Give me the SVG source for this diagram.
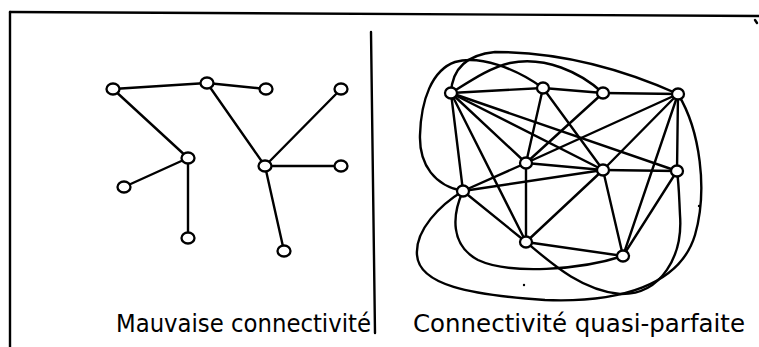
<svg xmlns="http://www.w3.org/2000/svg" width="759" height="347" viewBox="0 0 759 347">
<style>
.ln{stroke:#000;stroke-width:2.4;fill:none;stroke-linecap:round}
.cv{stroke:#000;stroke-width:2.4;fill:none}
.nd{stroke:#000;stroke-width:2.3;fill:#fff}
.lbl{font-family:"DejaVu Sans",sans-serif;font-size:25px;fill:#000}
</style>
<rect width="759" height="347" fill="#fff"/>
<g id="frame">
<line class="ln" x1="10" y1="12" x2="759" y2="16"/>
<line class="ln" x1="10" y1="12" x2="10" y2="347"/>
<line class="ln" x1="371" y1="32" x2="375" y2="333"/>
<line class="ln" x1="755" y1="20" x2="757" y2="23"/>
<circle cx="524" cy="285" r="1.2" fill="#000"/>
<circle cx="699" cy="206" r="1.2" fill="#000"/>
</g>
<g id="connectors">
<line class="ln" x1="113" y1="89" x2="207" y2="83"/>
<line class="ln" x1="207" y1="83" x2="266" y2="89"/>
<line class="ln" x1="113" y1="89" x2="188" y2="158"/>
<line class="ln" x1="188" y1="158" x2="124" y2="187"/>
<line class="ln" x1="188" y1="158" x2="188" y2="238"/>
<line class="ln" x1="207" y1="83" x2="265" y2="166"/>
<line class="ln" x1="265" y1="166" x2="341" y2="89"/>
<line class="ln" x1="265" y1="166" x2="341" y2="166"/>
<line class="ln" x1="265" y1="166" x2="284" y2="251"/>
<line class="ln" x1="451" y1="93" x2="543" y2="88"/>
<line class="ln" x1="543" y1="88" x2="603" y2="93"/>
<line class="ln" x1="603" y1="93" x2="678" y2="94"/>
<line class="ln" x1="451" y1="93" x2="526" y2="163"/>
<line class="ln" x1="451" y1="93" x2="603" y2="170"/>
<line class="ln" x1="451" y1="93" x2="677" y2="171"/>
<line class="ln" x1="451" y1="93" x2="463" y2="191"/>
<line class="ln" x1="451" y1="93" x2="526" y2="242"/>
<line class="ln" x1="543" y1="88" x2="526" y2="163"/>
<line class="ln" x1="543" y1="88" x2="603" y2="170"/>
<line class="ln" x1="603" y1="93" x2="526" y2="163"/>
<line class="ln" x1="678" y1="94" x2="526" y2="163"/>
<line class="ln" x1="678" y1="94" x2="603" y2="170"/>
<line class="ln" x1="678" y1="94" x2="677" y2="171"/>
<line class="ln" x1="678" y1="94" x2="623" y2="256"/>
<line class="ln" x1="526" y1="163" x2="603" y2="170"/>
<line class="ln" x1="526" y1="163" x2="463" y2="191"/>
<line class="ln" x1="526" y1="163" x2="526" y2="242"/>
<line class="ln" x1="603" y1="170" x2="677" y2="171"/>
<line class="ln" x1="603" y1="170" x2="463" y2="191"/>
<line class="ln" x1="603" y1="170" x2="526" y2="242"/>
<line class="ln" x1="603" y1="170" x2="623" y2="256"/>
<line class="ln" x1="677" y1="171" x2="623" y2="256"/>
<line class="ln" x1="463" y1="191" x2="526" y2="242"/>
<line class="ln" x1="526" y1="242" x2="623" y2="256"/>
<path class="cv" d="M463,191 C435,186 419,165 420,135 C421,100 432,70 455,62 C480,55 515,68 543,88"/>
<path class="cv" d="M451,93 C475,78 490,68 510,63 C545,56 580,72 603,93"/>
<path class="cv" d="M451,93 C452,70 465,55 495,52 C560,52 620,68 678,94"/>
<path class="cv" d="M463,191 C440,205 415,230 417,255 C419,285 470,295 545,300 C620,303 680,285 695,235 C708,190 700,130 678,94"/>
<path class="cv" d="M463,191 C452,215 450,245 478,260 C510,275 580,270 623,256"/>
<path class="cv" d="M526,242 C550,262 580,290 620,294 C662,295 683,255 680,215 C679,195 679,185 677,171"/>
</g>
<g id="left-nodes">
<ellipse id="l1" class="nd" cx="113" cy="89" rx="6.5" ry="5.5"/>
<ellipse id="l2" class="nd" cx="207" cy="83" rx="6.5" ry="5.5"/>
<ellipse id="l3" class="nd" cx="266" cy="89" rx="6.5" ry="5.5"/>
<ellipse id="l4" class="nd" cx="341" cy="89" rx="6.5" ry="5.5"/>
<ellipse id="l5" class="nd" cx="188" cy="158" rx="6.5" ry="5.5"/>
<ellipse id="l6" class="nd" cx="124" cy="187" rx="6.5" ry="5.5"/>
<ellipse id="l7" class="nd" cx="188" cy="238" rx="6.5" ry="5.5"/>
<ellipse id="l8" class="nd" cx="265" cy="166" rx="6.5" ry="5.5"/>
<ellipse id="l9" class="nd" cx="341" cy="166" rx="6.5" ry="5.5"/>
<ellipse id="l10" class="nd" cx="284" cy="251" rx="6.5" ry="5.5"/>
</g>
<g id="right-nodes">
<ellipse id="r1" class="nd" cx="451" cy="93" rx="6" ry="5.5"/>
<ellipse id="r2" class="nd" cx="543" cy="88" rx="6" ry="5.5"/>
<ellipse id="r3" class="nd" cx="603" cy="93" rx="6" ry="5.5"/>
<ellipse id="r4" class="nd" cx="678" cy="94" rx="6" ry="5.5"/>
<ellipse id="r5" class="nd" cx="526" cy="163" rx="6" ry="5.5"/>
<ellipse id="r6" class="nd" cx="603" cy="170" rx="6" ry="5.5"/>
<ellipse id="r7" class="nd" cx="677" cy="171" rx="6" ry="5.5"/>
<ellipse id="r8" class="nd" cx="463" cy="191" rx="6" ry="5.5"/>
<ellipse id="r9" class="nd" cx="526" cy="242" rx="6" ry="5.5"/>
<ellipse id="r10" class="nd" cx="623" cy="256" rx="6" ry="5.5"/>
</g>
<g id="labels">
<text class="lbl" x="116" y="332" textLength="255" lengthAdjust="spacingAndGlyphs">Mauvaise connectivité</text>
<text class="lbl" x="413" y="332" textLength="332" lengthAdjust="spacingAndGlyphs">Connectivité quasi-parfaite</text>
</g>
</svg>
